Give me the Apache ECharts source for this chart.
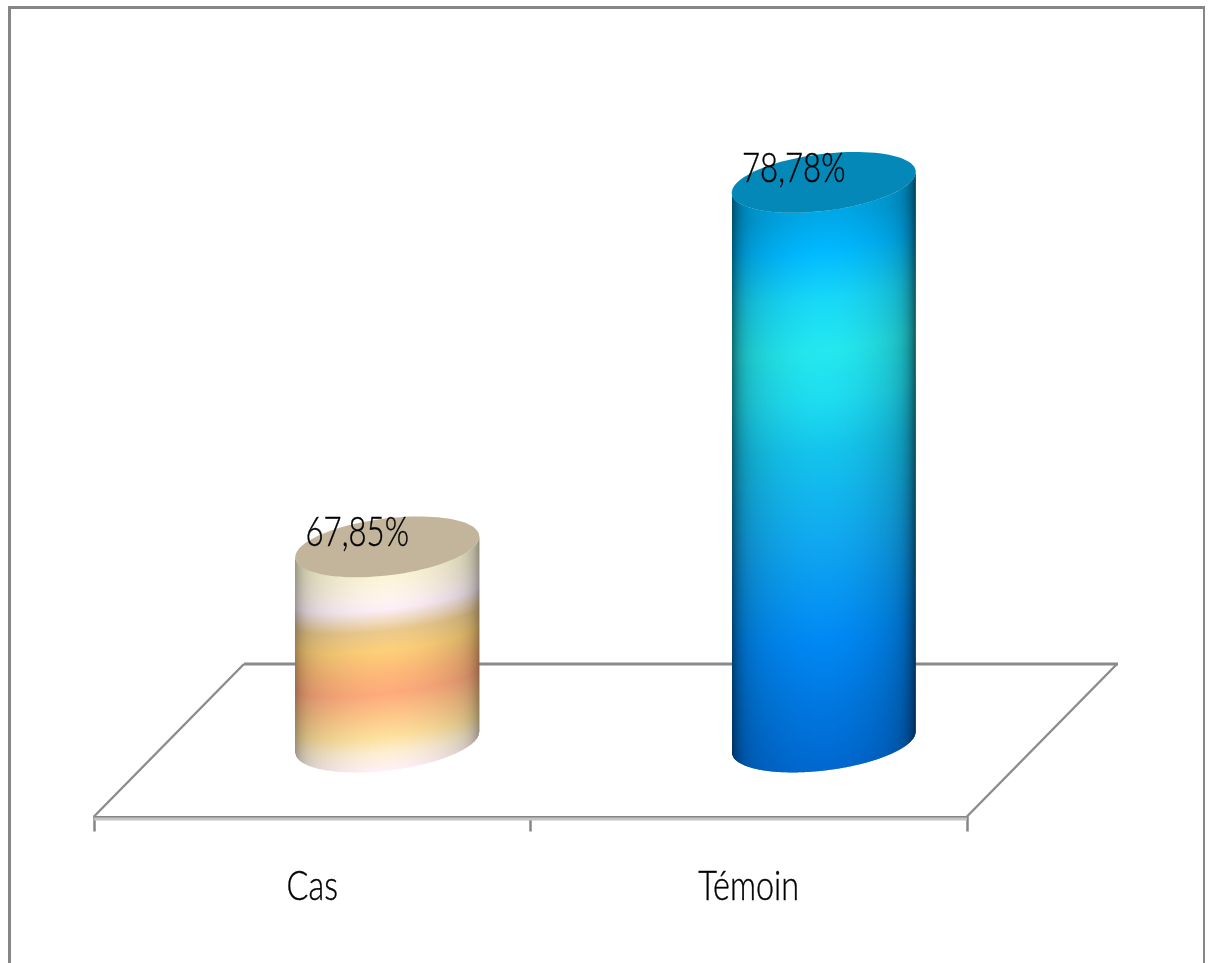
<!DOCTYPE html>
<html>
<head>
<meta charset="utf-8">
<style>
  html, body { margin: 0; padding: 0; background: #fff; }
  #chart { width: 1213px; height: 963px; }
</style>
<script src="https://cdn.jsdelivr.net/npm/echarts@6/dist/echarts.min.js"></script>
</head>
<body>
<div id="chart"></div>
<script>
const categories = ['Cas', 'Témoin'];
const rates = [67.85, 78.78];
const axisMin = 62;
const axisMax = 80;

// Colour bands along each cylinder: [fraction of height, colour]
const casBands = [
  [0.15, '#fbf4d6'], [0.27, '#fff3ee'], [0.32, '#fdeef8'], [0.36, '#f3e0d2'],
  [0.43, '#eac98c'], [0.53, '#fdcf78'], [0.65, '#fdb878'], [0.75, '#fdaa7c'],
  [0.87, '#fdc88a'], [0.97, '#fde09c'], [1.05, '#fdeed0'], [1.14, '#fff0f6']
];
const temoinBands = [
  [0.06, '#00a8e8'], [0.12, '#00b8ff'], [0.21, '#18d8f8'], [0.30, '#24e8ee'],
  [0.39, '#1edcf0'], [0.48, '#14c4ec'], [0.64, '#10a8f0'], [0.82, '#0088f4'],
  [0.93, '#0078e0'], [1.05, '#0068d0']
];
const bandSets = [casBands, temoinBands];
const capColors = ['#c2b59b', '#0388b8'];
const bandCurve = [14, 10];
// Side shading of each cylinder: [broad falloff, rim falloff]
const sideShade = [[0.18, 0.2], [0.22, 0.34]];

// Oblique projection of the chart floor, in pixels
const depthX = 75;
const frontDrop = 74.5;
const backRise = 78;
const radiusRatio = 0.2108;
const capHalfHeight = 28.6;
const capShear = 0.113;

const labelFont = '300 41px Lato, "Noto Sans", sans-serif';
const valueScale = 0.76;
const categoryScale = 0.79;

function shade(hex, k) {
  const n = parseInt(hex.slice(1), 16);
  const c = [(n >> 16) & 255, (n >> 8) & 255, n & 255].map(v => Math.round(v * k));
  return 'rgb(' + c.join(',') + ')';
}

function edgeFactor(t, idx) {
  const s = sideShade[idx];
  const rightExtra = t > 0 ? 1.12 : 1;
  return 1 - (s[0] * t * t + s[1] * Math.pow(Math.abs(t), 12)) * rightExtra;
}

function capPoints(cx, cy, a) {
  const pts = [];
  for (let i = 0; i < 96; i++) {
    const u = i / 96 * Math.PI * 2;
    pts.push([cx + a * Math.cos(u), cy + capHalfHeight * Math.sin(u) - capShear * a * Math.cos(u)]);
  }
  return pts;
}

function labelStyle(text) {
  return {
    text,
    font: labelFont, fill: '#000',
    stroke: '#000', lineWidth: 0.4,
    textAlign: 'center', textVerticalAlign: 'middle'
  };
}

function renderCylinder(params, api) {
  const idx = api.value(0);
  const base = api.coord([idx, axisMin]);
  const top = api.coord([idx, api.value(1)]);
  const a = api.size([1, 0])[0] * radiusRatio;
  const cx = base[0] + depthX;
  const topY = top[1];
  const botY = base[1];
  const h = botY - topY;
  const children = [];
  const span = 1.2;
  const rim = x => {
    const t = Math.max(-1, Math.min(1, (x - cx) / a));
    return -capShear * a * t + capHalfHeight * Math.sqrt(1 - t * t);
  };
  // Side wall, drawn as narrow columns so the bands can follow the curved surface
  for (let x = Math.round(cx - a); x < cx + a; x += 1) {
    const xr = Math.min(x + 1.5, cx + a);
    const t = (x + 0.5 - cx) / a;
    const off = -capShear * a * t + bandCurve[idx] * (Math.sqrt(Math.max(0, 1 - t * t)) - 1);
    const k = edgeFactor(t, idx);
    children.push({
      type: 'polygon',
      shape: { points: [
        [x, topY + rim(x)], [xr, topY + rim(xr)],
        [xr, botY + rim(xr)], [x, botY + rim(x)]
      ] },
      style: {
        fill: {
          type: 'linear', global: true,
          x: 0, y: topY + off, x2: 0, y2: topY + off + h * span,
          colorStops: bandSets[idx].map(s => ({ offset: s[0] / span, color: shade(s[1], k) }))
        }
      }
    });
  }
  children.push({
    type: 'polygon',
    shape: { points: capPoints(cx, topY, a) },
    style: { fill: capColors[idx] }
  });
  children.push({
    type: 'text',
    x: cx - 30, y: topY - 14,
    scaleX: valueScale,
    style: labelStyle(api.value(1).toFixed(2).replace('.', ',') + '%')
  });
  children.push({
    type: 'text',
    x: base[0], y: botY + 145,
    scaleX: categoryScale,
    style: labelStyle(categories[idx])
  });
  return { type: 'group', children };
}

function renderFloor(params) {
  const g = params.coordSys;
  const bottom = g.y + g.height;
  const front = bottom + frontDrop;
  const back = bottom - backRise;
  const left = g.x;
  const right = g.x + g.width;
  const line = (x1, y1, x2, y2, color, width) => ({
    type: 'line',
    shape: { x1, y1, x2, y2 },
    style: { stroke: color, lineWidth: width }
  });
  return {
    type: 'group',
    children: [
      line(left, front + 2.5, right, front + 2.5, '#c4c4c4', 3),
      line(left, front, left + depthX * 2, back, '#8c8c8c', 2.4),
      line(right, front, right + depthX * 2, back, '#8c8c8c', 2.4),
      line(left + depthX * 2, back, right + depthX * 2 + 1, back, '#8a8a8a', 3)
    ]
  };
}

const chart = echarts.init(document.getElementById('chart'), null, { renderer: 'canvas' });
chart.setOption({
  animation: false,
  backgroundColor: '#fff',
  grid: { left: 94, width: 873, top: 141.7, height: 600.3 },
  xAxis: {
    type: 'category',
    data: categories,
    offset: frontDrop,
    axisLine: { lineStyle: { color: '#868686', width: 2 } },
    axisTick: { show: true, length: 15, lineStyle: { color: '#868686', width: 2.5 } },
    axisLabel: { show: false },
    splitLine: { show: false }
  },
  yAxis: { type: 'value', min: axisMin, max: axisMax, show: false, splitLine: { show: false } },
  graphic: [
    { type: 'line', shape: { x1: 9.5, y1: 6, x2: 9.5, y2: 963 }, style: { stroke: '#868686', lineWidth: 3 } },
    { type: 'line', shape: { x1: 8, y1: 7.5, x2: 1205, y2: 7.5 }, style: { stroke: '#868686', lineWidth: 3 } },
    { type: 'line', shape: { x1: 1204, y1: 6, x2: 1204, y2: 963 }, style: { stroke: '#868686', lineWidth: 2 } }
  ],
  series: [
    { type: 'custom', name: 'Plancher', z: 1, silent: true, renderItem: renderFloor, data: [[0, axisMin]], encode: { x: 0, y: 1 } },
    { type: 'custom', name: 'Taux', z: 3, silent: true, renderItem: renderCylinder,
      data: rates.map((v, i) => [i, v]), encode: { x: 0, y: 1 } }
  ]
});
</script>
</body>
</html>
